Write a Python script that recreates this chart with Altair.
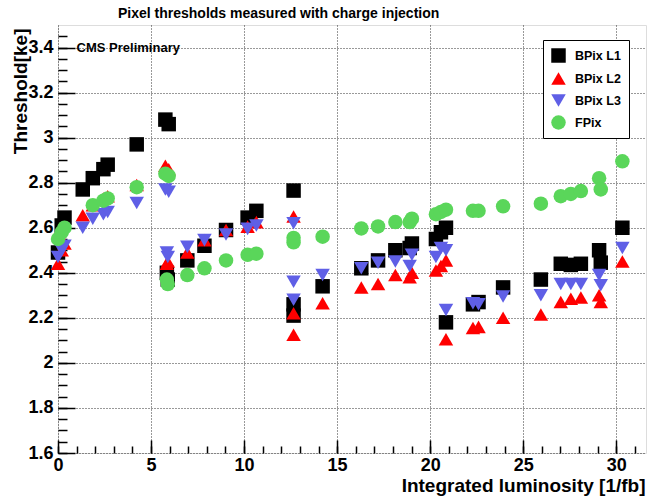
import altair as alt
import pandas as pd

# ---- data ----
lumi = [0.0, 0.2, 0.35, 1.33, 1.87, 2.44, 2.67, 4.23, 5.77, 5.95, 5.85, 5.9,
        6.95, 7.87, 9.03, 10.19, 10.66, 12.66, 12.66, 12.66, 14.22, 16.3, 17.2,
        18.13, 18.9, 19.02, 20.31, 20.58, 20.85, 20.85, 22.3, 22.6, 23.92, 25.95,
        27.02, 27.56, 28.1, 29.08, 29.17, 30.33]
bpix_l1 = [2.49, 2.61, 2.645, 2.77, 2.82, 2.86, 2.88, 2.97, 3.08, 3.06, 2.40, 2.37,
           2.455, 2.52, 2.59, 2.645, 2.675, 2.765, 2.26, 2.21, 2.34, 2.42, 2.455,
           2.50, 2.51, 2.53, 2.55, 2.58, 2.60, 2.18, 2.26, 2.27, 2.335, 2.37,
           2.44, 2.435, 2.44, 2.50, 2.445, 2.60]
bpix_l2 = [2.44, 2.50, 2.53, 2.655, 2.70, 2.73, 2.74, 2.79, 2.875, 2.86, 2.44, 2.45,
           2.49, 2.545, 2.59, 2.605, 2.625, 2.65, 2.22, 2.125, 2.265, 2.335, 2.35,
           2.39, 2.38, 2.40, 2.41, 2.43, 2.455, 2.105, 2.155, 2.16, 2.20, 2.215,
           2.27, 2.285, 2.29, 2.30, 2.27, 2.45]
bpix_l3 = [2.47, 2.50, 2.52, 2.60, 2.64, 2.66, 2.67, 2.71, 2.77, 2.76, 2.49, 2.47,
           2.515, 2.545, 2.57, 2.595, 2.61, 2.62, 2.36, 2.28, 2.39, 2.42, 2.445,
           2.45, 2.43, 2.48, 2.47, 2.51, 2.50, 2.235, 2.265, 2.26, 2.295, 2.30,
           2.35, 2.35, 2.35, 2.39, 2.345, 2.51]
fpix = [2.55, 2.58, 2.60, None, 2.70, 2.72, 2.73, 2.78, 2.84, 2.83, 2.37, 2.35,
        2.39, 2.42, 2.455, 2.48, 2.485, 2.555, 2.535, None, 2.56, 2.597, 2.606,
        2.625, 2.625, 2.64, 2.66, 2.67, 2.68, None, 2.675, 2.675, 2.695, 2.707,
        2.74, 2.75, 2.763, 2.82, 2.77, 2.895]

series_names = ["BPix L1", "BPix L2", "BPix L3", "FPix"]
series_colors = ["#000000", "#ff0000", "#5f5fe6", "#5ad65a"]
series_shapes = ["square", "triangle-up", "triangle-down", "circle"]

x_major = [0, 5, 10, 15, 20, 25, 30]
x_minor = list(range(0, 32))
y_major = [1.6, 1.8, 2.0, 2.2, 2.4, 2.6, 2.8, 3.0, 3.2, 3.4]
y_minor = [round(1.6 + 0.05 * i, 2) for i in range(0, 38)]

title_text = "Pixel thresholds measured with charge injection"
note_text = ["CMS Preliminary"]
note_x = [1.0]
note_y = [3.4]

FONT = "Liberation Sans"

rows = []
for name, vals in zip(series_names, [bpix_l1, bpix_l2, bpix_l3, fpix]):
    for x, v in zip(lumi, vals):
        if v is not None:
            rows.append({"lumi": x, "threshold": v, "series": name})
df = pd.DataFrame(rows)
note_df = pd.DataFrame({"x": note_x, "y": note_y, "label": note_text})

x_scale = alt.Scale(domain=[0, 31.6], nice=False, zero=False)
y_scale = alt.Scale(domain=[1.6, 3.5], nice=False, zero=False)

legend = alt.Legend(
    title=None, orient="none", legendX=485, legendY=15, direction="vertical",
    strokeColor="black", fillColor="white", padding=8, rowPadding=8,
    symbolSize=210, symbolStrokeWidth=0, labelFont=FONT, labelFontSize=12.5,
    labelFontWeight="bold", labelColor="black", labelOffset=9, cornerRadius=0,
)

points = alt.Chart(df).mark_point(filled=True, size=210, opacity=1).encode(
    x=alt.X("lumi:Q", scale=x_scale, axis=alt.Axis(
        values=x_major, format="d", ticks=False, domain=False, grid=True,
        gridDash=[1, 2], gridColor="black", gridOpacity=0.8, gridWidth=1,
        labelFont=FONT, labelFontSize=18, labelFontWeight="bold", labelColor="black",
        labelPadding=3, labelFlush=False, labelOverlap=False,
        title="Integrated luminosity [1/fb]", titleFont=FONT, titleFontSize=19,
        titleFontWeight="bold", titleColor="black", titleAnchor="end",
        titleAlign="right", titleX=587, titleY=38, titleBaseline="alphabetic",
        orient="bottom")),
    y=alt.Y("threshold:Q", scale=y_scale, axis=alt.Axis(
        values=y_major, format=".1~f", ticks=False, domain=False, grid=True,
        gridDash=[1, 2], gridColor="black", gridOpacity=0.8, gridWidth=1,
        labelFont=FONT, labelFontSize=18, labelFontWeight="bold", labelColor="black",
        labelPadding=5, labelFlush=False, labelOverlap=False,
        title="Threshold[ke]", titleFont=FONT, titleFontSize=19,
        titleFontWeight="bold", titleColor="black", titleAnchor="end",
        titleAlign="right", titleAngle=270, titleX=-32, titleY=3,
        titleBaseline="alphabetic", orient="left")),
    color=alt.Color("series:N", scale=alt.Scale(domain=series_names, range=series_colors), legend=legend),
    shape=alt.Shape("series:N", scale=alt.Scale(domain=series_names, range=series_shapes), legend=legend),
)


def tick_layer(channel, values, size):
    ax = alt.Axis(values=values, ticks=True, tickSize=size, offset=-size,
                  tickColor="black", tickWidth=1.5, labels=False, domain=False,
                  grid=False, title=None,
                  orient="bottom" if channel == "x" else "left")
    if channel == "x":
        enc = dict(x=alt.X("lumi:Q", scale=x_scale, axis=ax),
                   y=alt.Y("threshold:Q", scale=y_scale, axis=None))
    else:
        enc = dict(x=alt.X("lumi:Q", scale=x_scale, axis=None),
                   y=alt.Y("threshold:Q", scale=y_scale, axis=ax))
    return alt.Chart(df).mark_point(opacity=0).encode(**enc)


note = alt.Chart(note_df).mark_text(
    align="left", baseline="middle", font=FONT, fontSize=13, fontWeight="bold", color="black"
).encode(
    x=alt.X("x:Q", scale=x_scale, axis=None),
    y=alt.Y("y:Q", scale=y_scale, axis=None),
    text="label:N",
)

chart = alt.layer(
    points,
    tick_layer("x", x_major, 13),
    tick_layer("x", x_minor, 7),
    tick_layer("y", y_major, 17),
    tick_layer("y", y_minor, 9),
    note,
).resolve_axis(x="independent", y="independent").properties(
    width=588, height=428,
    title=alt.TitleParams(title_text, anchor="start", frame="group", dx=60, offset=4,
                          font=FONT, fontSize=14, fontWeight="bold", color="black"),
    autosize=alt.AutoSizeParams(type="none"),
    padding={"left": 58, "top": 25, "right": 2, "bottom": 46},
).configure_view(stroke="black", strokeWidth=1.5).configure(background="white")

chart.save("out.html", embed_options={"renderer": "svg", "actions": False})
